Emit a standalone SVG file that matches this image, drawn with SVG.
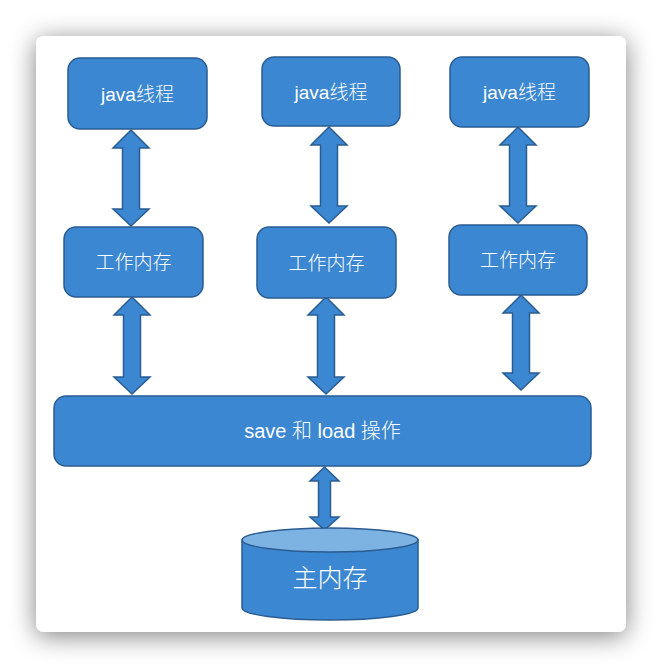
<svg xmlns="http://www.w3.org/2000/svg" width="662" height="668" viewBox="0 0 662 668">
  <defs>
    <filter id="shadow" x="-20%" y="-20%" width="140%" height="140%">
      <feGaussianBlur in="SourceAlpha" stdDeviation="13"/>
      <feOffset dx="0" dy="4" result="b"/>
      <feComponentTransfer><feFuncA type="linear" slope="0.5"/></feComponentTransfer>
      <feMerge><feMergeNode/><feMergeNode in="SourceGraphic"/></feMerge>
    </filter>
  </defs>
  <style>
    .box { fill: #3b87d1; stroke: #2a5c91; stroke-width: 1.5; }
    .arrow { fill: #3b87d1; stroke: #2a5c91; stroke-width: 1.5; stroke-linejoin: miter; }
    .lbl { fill: #ffffff; font-family: "Liberation Sans", "Noto Sans CJK SC", sans-serif; font-size: 19px; font-weight: 300; text-anchor: middle; }
    .save { font-size: 20px; }
    .big { font-size: 25px; }
  </style>
  <rect x="0" y="0" width="662" height="668" fill="#ffffff"/>
  <rect x="36" y="36" width="590" height="596" rx="8" fill="#ffffff" filter="url(#shadow)"/>

  <g id="connectors">
    <path class="arrow" d="M131,130 L149,148 L139.5,148 L139.5,209 L149,209 L131,226 L113,209 L122.5,209 L122.5,148 L113,148 Z"/>
    <path class="arrow" d="M329,127 L347,145 L337.5,145 L337.5,206 L347,206 L329,223 L311,206 L320.5,206 L320.5,145 L311,145 Z"/>
    <path class="arrow" d="M518,127 L536,145 L526.5,145 L526.5,206 L536,206 L518,223 L500,206 L509.5,206 L509.5,145 L500,145 Z"/>
    <path class="arrow" d="M132,297 L150,315 L140.5,315 L140.5,377 L150,377 L132,394 L114,377 L123.5,377 L123.5,315 L114,315 Z"/>
    <path class="arrow" d="M326,297 L344,315 L334.5,315 L334.5,377 L344,377 L326,394 L308,377 L317.5,377 L317.5,315 L308,315 Z"/>
    <path class="arrow" d="M521,295 L539,313 L529.5,313 L529.5,373 L539,373 L521,390 L503,373 L512.5,373 L512.5,313 L503,313 Z"/>
    <path class="arrow" d="M324.5,467 L339,481 L330.5,481 L330.5,517 L339,517 L324.5,530 L310,517 L318.5,517 L318.5,481 L310,481 Z"/>
  </g>

  <g id="java1">
    <rect class="box" x="68" y="58" width="139" height="71" rx="12"/>
    <text class="lbl" x="137.5" y="100.5">java线程</text>
  </g>
  <g id="java2">
    <rect class="box" x="262" y="57" width="138" height="69" rx="12"/>
    <text class="lbl" x="331" y="98.5">java线程</text>
  </g>
  <g id="java3">
    <rect class="box" x="450" y="57" width="139" height="70" rx="12"/>
    <text class="lbl" x="519.5" y="99">java线程</text>
  </g>

  <g id="work1">
    <rect class="box" x="64" y="227" width="139" height="70" rx="12"/>
    <text class="lbl" x="133.5" y="269">工作内存</text>
  </g>
  <g id="work2">
    <rect class="box" x="257" y="227" width="139" height="71" rx="12"/>
    <text class="lbl" x="326.5" y="269.5">工作内存</text>
  </g>
  <g id="work3">
    <rect class="box" x="449" y="225" width="138" height="70" rx="12"/>
    <text class="lbl" x="518" y="267">工作内存</text>
  </g>

  <g id="saveload">
    <rect class="box" x="54" y="396" width="537" height="70" rx="12"/>
    <text class="lbl save" x="322.5" y="438">save 和 load 操作</text>
  </g>

  <g id="mainmem">
    <path class="box" d="M242,540 L242,608 A88,12 0 0 0 418,608 L418,540 Z"/>
    <ellipse cx="330" cy="540" rx="88" ry="12" fill="#7db3e3" stroke="#2a5c91" stroke-width="1.5"/>
    <text class="lbl big" x="330" y="587">主内存</text>
  </g>
</svg>
